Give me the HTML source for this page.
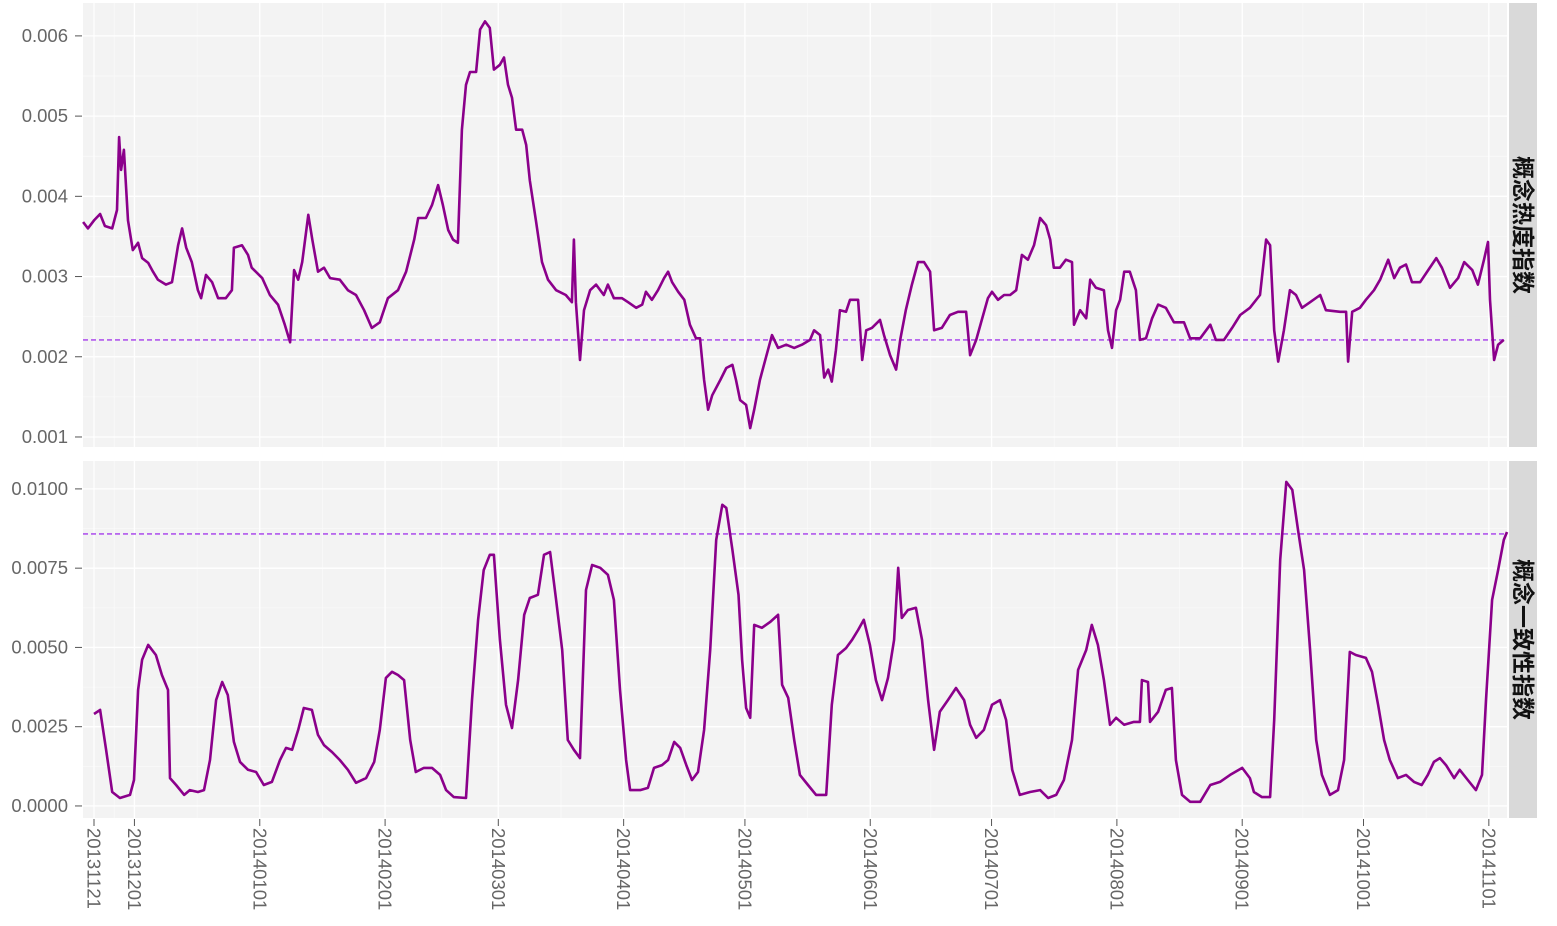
<!DOCTYPE html>
<html><head><meta charset="utf-8"><style>
body{margin:0;background:#fff;}
svg text{font-family:"Liberation Sans","Noto Sans CJK SC",sans-serif;}
</style></head><body>
<svg id="c" width="1557" height="921" xmlns="http://www.w3.org/2000/svg"></svg>
<script>
const dateLabels=["20131121","20131201","20140101","20140201","20140301","20140401","20140501","20140601","20140701","20140801","20140901","20141001","20141101"];
const dateDays=[0,10,41,72,100,131,161,192,222,253,284,314,345];
const heatTicks=[0.001,0.002,0.003,0.004,0.005,0.006];
const heatTickLabels=["0.001","0.002","0.003","0.004","0.005","0.006"];
const consTicks=[0,0.0025,0.005,0.0075,0.01];
const consTickLabels=["0.0000","0.0025","0.0050","0.0075","0.0100"];
const heatRef=0.00221;
const consRef=0.00858;
const heatDays=[-2.7,-1.5,0,1.5,2.7,4.5,5.7,6.2,6.7,7.4,8.4,9.6,10.9,11.9,13.4,14.6,15.8,17.8,19.3,20.8,21.8,22.8,24.2,25.7,26.5,27.7,29.2,30.7,32.6,34.1,34.6,36.6,38.1,39,41.6,43.5,45.5,47.2,48.5,49.5,50.5,51.5,53,54,55.4,56.9,58.4,60.8,62.8,64.8,66.8,68.7,70.7,72.7,75.2,77.2,79.2,80.2,82.1,83.6,85.1,86.3,87.6,88.8,90,91,92,93,94.5,95.5,96.7,97.9,98.9,100.4,101.4,102.4,103.4,104.4,105.9,106.9,107.8,109.3,110.8,112.3,114.3,116.7,118.2,118.7,119.2,120.2,121.2,122.7,124.2,126.1,127.1,128.6,130.6,132.1,134.1,135.6,136.5,138,139.5,141,142,143,144.5,146,147.4,148.9,149.9,150.9,151.9,152.9,154.9,156.4,157.9,158.8,159.8,161.3,162.3,163.3,164.7,166.2,167.7,169.2,171.2,173.2,175.1,177.1,178.1,179.6,180.6,181.6,182.5,183.5,184.5,186,187,189,190,191,192.4,194.4,195.4,196.9,198.4,199.4,200.8,202.3,203.8,205.3,206.8,207.8,209.7,211.7,213.7,215.7,216.7,218.2,219.6,221.1,222.1,223.6,225.1,226.6,228.1,229.5,231,232.5,234,235.5,236.5,237.4,238.9,240.4,241.9,242.4,243.9,245.4,246.4,247.8,249.8,250.8,251.8,252.8,253.8,254.8,256.2,257.7,258.7,260.2,261.7,263.2,265.1,267.1,269.6,271.1,273.6,276.1,277.5,279.5,281.5,283.5,285.9,288.4,289.9,290.9,291.9,292.9,294.3,295.8,297.3,298.8,300.8,303.3,304.7,308.2,309.7,310.2,311.2,313.1,314.6,316.6,318.1,320.1,321.6,323,324.5,326,328,330,332,333.4,335.4,337.4,338.9,340.9,342.3,343.8,344.8,345.3,346.3,347.3,348.7];
const heatValues=[0.00368,0.0036,0.0037,0.00378,0.00363,0.0036,0.00383,0.00474,0.00433,0.00458,0.0037,0.00333,0.00342,0.00323,0.00317,0.00306,0.00296,0.0029,0.00293,0.00339,0.0036,0.00336,0.00318,0.00283,0.00273,0.00302,0.00293,0.00273,0.00273,0.00283,0.00336,0.00339,0.00327,0.00311,0.00298,0.00277,0.00265,0.0024,0.00218,0.00308,0.00296,0.00318,0.00377,0.00346,0.00306,0.00311,0.00298,0.00296,0.00283,0.00277,0.00258,0.00236,0.00243,0.00273,0.00283,0.00306,0.00346,0.00373,0.00373,0.00389,0.00414,0.00389,0.00358,0.00346,0.00342,0.00483,0.00539,0.00555,0.00555,0.00608,0.00618,0.0061,0.00558,0.00564,0.00573,0.00539,0.00523,0.00483,0.00483,0.00464,0.0042,0.0037,0.00318,0.00296,0.00283,0.00277,0.00268,0.00346,0.00268,0.00196,0.00258,0.00283,0.0029,0.00277,0.0029,0.00273,0.00273,0.00268,0.00261,0.00265,0.00281,0.00271,0.00283,0.00298,0.00306,0.00293,0.00281,0.00271,0.0024,0.00223,0.00223,0.00171,0.00134,0.00152,0.00171,0.00186,0.0019,0.00171,0.00146,0.0014,0.00111,0.00134,0.00171,0.00199,0.00227,0.00211,0.00215,0.00211,0.00215,0.00221,0.00233,0.00227,0.00174,0.00184,0.00169,0.00208,0.00258,0.00256,0.00271,0.00271,0.00196,0.00233,0.00236,0.00246,0.00227,0.00202,0.00184,0.00221,0.00258,0.0029,0.00318,0.00318,0.00306,0.00233,0.00236,0.00252,0.00256,0.00256,0.00202,0.00221,0.00246,0.00273,0.00281,0.00271,0.00277,0.00277,0.00283,0.00327,0.00321,0.00339,0.00373,0.00364,0.00346,0.00311,0.00311,0.00321,0.00318,0.0024,0.00258,0.00248,0.00296,0.00286,0.00283,0.00233,0.00211,0.00258,0.00271,0.00306,0.00306,0.00283,0.00221,0.00223,0.00248,0.00265,0.00261,0.00243,0.00243,0.00223,0.00223,0.0024,0.00221,0.00221,0.00236,0.00252,0.00261,0.00277,0.00346,0.00339,0.00233,0.00194,0.00233,0.00283,0.00277,0.00261,0.00268,0.00277,0.00258,0.00256,0.00256,0.00194,0.00256,0.00261,0.00271,0.00283,0.00296,0.00321,0.00298,0.00311,0.00315,0.00293,0.00293,0.00308,0.00323,0.00311,0.00286,0.00298,0.00318,0.00308,0.0029,0.00321,0.00343,0.00271,0.00196,0.00215,0.00221];
const consDays=[0,1.5,3,4.5,6.4,8.9,9.9,10.9,11.9,13.4,15.3,16.8,18.3,18.8,20.3,22.3,23.7,25.7,27.2,28.7,30.2,31.7,33.1,34.6,36.1,38.1,40.1,42,44,46,47.5,49,50.5,51.9,53.9,55.4,56.9,58.9,60.8,62.8,64.8,67.3,69.3,70.7,72.2,73.7,75.2,76.7,78.2,79.6,81.6,83.6,85.6,87.1,89,92,93.5,95,96.4,97.9,98.9,100.4,101.9,103.4,104.9,106.4,107.8,109.8,111.3,112.8,114.3,115.8,117.2,118.7,120.2,121.7,123.2,125.2,127.1,128.6,130.1,131.6,132.6,135.1,137,138.5,140.5,142,143.5,145,146.5,147.9,149.4,150.9,152.4,153.9,155.4,156.4,157.9,159.4,160.3,161.3,162.3,163.3,165.2,167.2,169.2,170.2,171.7,173.2,174.6,176.6,178.6,181.1,182.5,184,186,187.5,189,190.4,191.9,193.4,194.9,196.4,197.9,198.9,199.8,201.3,203.3,204.8,206.3,207.8,209.2,211.2,213.2,215.2,216.7,218.2,220.1,222.1,224.1,225.6,227.1,229,231.5,234,236,238,239.9,241.9,243.4,245.4,246.8,248.3,249.8,251.3,252.8,254.8,257.2,258.7,259.2,260.7,261.2,263.2,265.1,266.6,267.6,269.1,271.1,273.6,276.1,278.5,281,284,285.9,286.9,288.9,290.9,291.9,293.4,294.9,296.4,297.8,299.3,300.8,302.3,303.7,305.7,307.7,309.2,310.6,312.1,314.6,316.1,317.6,319.1,320.5,322.5,324.5,326.5,328.4,329.9,331.4,332.9,334.4,336.4,337.8,339.8,341.8,343.3,344.3,345.8,347.3,348.7,349.5];
const consValues=[0.0029,0.00303,0.00177,0.00044,0.00025,0.00035,0.00082,0.00366,0.00461,0.00508,0.00476,0.00413,0.00366,0.00088,0.00066,0.00035,0.0005,0.00044,0.0005,0.00145,0.00334,0.00391,0.0035,0.00202,0.00139,0.00114,0.00107,0.00066,0.00076,0.00145,0.00183,0.00177,0.0024,0.00309,0.00303,0.00224,0.00192,0.0017,0.00145,0.00114,0.00073,0.00088,0.00139,0.0024,0.00404,0.00423,0.00413,0.00397,0.00208,0.00107,0.0012,0.0012,0.00098,0.0005,0.00028,0.00025,0.00334,0.00587,0.00744,0.00792,0.00792,0.00524,0.00319,0.00246,0.00397,0.00603,0.00656,0.00666,0.00792,0.00801,0.0065,0.00492,0.00208,0.00177,0.00151,0.00681,0.0076,0.00751,0.00729,0.0065,0.00366,0.00145,0.0005,0.0005,0.00057,0.0012,0.00129,0.00145,0.00202,0.00183,0.00129,0.00082,0.00107,0.0024,0.00492,0.00839,0.0095,0.0094,0.00808,0.00666,0.00461,0.00309,0.00278,0.00571,0.00562,0.0058,0.00603,0.00382,0.00341,0.00208,0.00098,0.00066,0.00035,0.00035,0.00319,0.00476,0.00498,0.00524,0.00555,0.00587,0.00508,0.00397,0.00334,0.00404,0.00524,0.00751,0.00593,0.00618,0.00625,0.00524,0.00334,0.00177,0.00297,0.00334,0.00372,0.00334,0.00256,0.00215,0.0024,0.00319,0.00334,0.00271,0.00114,0.00035,0.00044,0.0005,0.00025,0.00035,0.00082,0.00208,0.00429,0.00492,0.00571,0.00508,0.00397,0.00256,0.00278,0.00256,0.00265,0.00265,0.00397,0.00391,0.00265,0.00297,0.00366,0.00372,0.00145,0.00035,0.00013,0.00013,0.00066,0.00076,0.00098,0.0012,0.00088,0.00044,0.00028,0.00028,0.00271,0.00776,0.01022,0.00997,0.00871,0.00744,0.00492,0.00208,0.00098,0.00035,0.0005,0.00145,0.00486,0.00476,0.00467,0.00423,0.00319,0.00208,0.00145,0.00088,0.00098,0.00076,0.00066,0.00098,0.00139,0.00151,0.00129,0.00088,0.00114,0.00082,0.0005,0.00098,0.00334,0.0065,0.00744,0.00839,0.00864];

const NS="http://www.w3.org/2000/svg";
const svg=document.getElementById('c');
const PX0=83,PX1=1507;
const xs=d=>94+d*4.043;
function mk(t,a,p){const e=document.createElementNS(NS,t);for(const k in a)e.setAttribute(k,a[k]);(p||svg).appendChild(e);return e;}
function panel(y0,y1,vmin,vmax,ticks,labels,days,vals,ref,title,name){
  const ys=v=>y1-(v-vmin)/(vmax-vmin)*(y1-y0);
  const g=mk('g',{});
  
  
  mk('rect',{x:PX0,y:y0,width:PX1-PX0,height:y1-y0,fill:'#F3F3F3'},g);
  for(let i=0;i<ticks.length-1;i++){const y=ys((ticks[i]+ticks[i+1])/2);mk('line',{x1:PX0,x2:PX1,y1:y,y2:y,stroke:'#FAFAFA','stroke-width':0.7},g);}
  for(let i=0;i<dateDays.length-1;i++){const x=xs((dateDays[i]+dateDays[i+1])/2);mk('line',{x1:x,x2:x,y1:y0,y2:y1,stroke:'#FAFAFA','stroke-width':0.7},g);}
  ticks.forEach((t,i)=>{const y=ys(t);
    mk('line',{x1:PX0,x2:PX1,y1:y,y2:y,stroke:'#fff','stroke-width':1.3},g);
    mk('line',{x1:75,x2:82,y1:y,y2:y,stroke:'#555','stroke-width':1},g);
    const tx=mk('text',{x:68,y:y+6,'text-anchor':'end','font-size':18.5,fill:'#666'},g);
    
    
    tx.textContent=labels[i];});
  dateDays.forEach(d=>{const x=xs(d);mk('line',{x1:x,x2:x,y1:y0,y2:y1,stroke:'#fff','stroke-width':1.3},g);});
  const ry=ys(ref);
  const rl=mk('line',{x1:PX0,x2:PX1,y1:ry,y2:ry,stroke:'#A43BEB','stroke-width':1.4,'stroke-dasharray':'5,3'},g);
  
  
  const pts=days.map((d,i)=>xs(d).toFixed(1)+','+ys(vals[i]).toFixed(1)).join(' ');
  const pl=mk('polyline',{points:pts,fill:'none',stroke:'#8B008B','stroke-width':2.6,'stroke-linejoin':'round'},g);
  
  
  const st=mk('rect',{x:1509,y:y0,width:28,height:y1-y0,fill:'#D9D9D9'},g);
  
  
  const cy=(y0+y1)/2;
  const tt=mk('text',{x:1523,y:cy,'text-anchor':'middle','dominant-baseline':'central','font-size':23,'font-weight':'bold',fill:'#111',transform:`rotate(90 1523 ${cy})`},g);
  
  
  tt.textContent=title;
}
panel(3,447,0.000875,0.00641,heatTicks,heatTickLabels,heatDays,heatValues,heatRef,'概念热度指数','heat-index');
panel(461,818,-0.00038,0.01088,consTicks,consTickLabels,consDays,consValues,consRef,'概念一致性指数','consistency-index');
dateDays.forEach((d,i)=>{const x=xs(d);
  mk('line',{x1:x,x2:x,y1:819,y2:826,stroke:'#555','stroke-width':1});
  const t=mk('text',{x:x,y:828,'font-size':18.5,fill:'#666','dominant-baseline':'central',transform:`rotate(90 ${x} 828)`});
  
  
  t.textContent=dateLabels[i];});
</script>
</body></html>
